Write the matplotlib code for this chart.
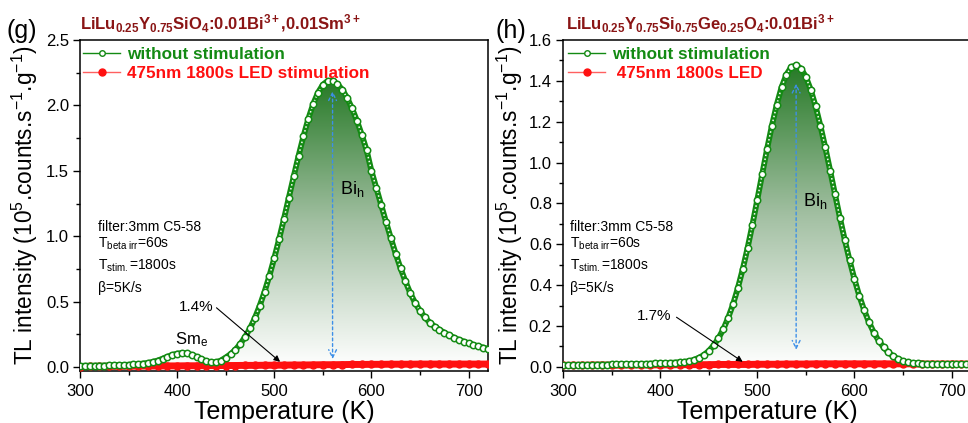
import numpy as np
import matplotlib
matplotlib.use('Agg')
import matplotlib.pyplot as plt
from matplotlib.colors import LinearSegmentedColormap
from matplotlib.patches import Polygon
from matplotlib.lines import Line2D
from matplotlib.ticker import MultipleLocator

plt.rcParams['font.family'] = ['Liberation Sans', 'DejaVu Sans']
plt.rcParams['mathtext.fontset'] = 'custom'
plt.rcParams['mathtext.rm'] = 'Liberation Sans'
plt.rcParams['mathtext.it'] = 'Liberation Sans:italic'
plt.rcParams['mathtext.bf'] = 'Liberation Sans:bold'

# ---------------- data ----------------
temps = list(range(300, 725, 5))          # K, 85 points
temps_red = list(range(300, 730, 10))     # K, 43 points

g_green = [0.010, 0.010, 0.011, 0.011, 0.012, 0.012, 0.013, 0.014, 0.015, 0.016,   # 300-345
           0.018, 0.020, 0.023, 0.027, 0.032, 0.040, 0.050, 0.064, 0.079, 0.093,   # 350-395
           0.103, 0.107, 0.104, 0.094, 0.078, 0.060, 0.045, 0.036, 0.036, 0.050,   # 400-445
           0.073, 0.099, 0.133, 0.177, 0.231, 0.296, 0.375, 0.469, 0.576, 0.698,   # 450-495
           0.833, 0.980, 1.135, 1.296, 1.457, 1.615, 1.763, 1.897, 2.010, 2.098,   # 500-545
           2.158, 2.188, 2.186, 2.163, 2.120, 2.058, 1.978, 1.884, 1.777, 1.659,   # 550-595
           1.500, 1.370, 1.240, 1.110, 0.985, 0.865, 0.755, 0.655, 0.565, 0.490,   # 600-645
           0.430, 0.380, 0.340, 0.310, 0.285, 0.263, 0.243, 0.225, 0.209, 0.195,   # 650-695
           0.182, 0.170, 0.159, 0.149, 0.140]                                       # 700-720

g_red = [0.004, 0.005, 0.005, 0.006, 0.006, 0.007, 0.007, 0.008, 0.008, 0.009,     # 300-390
         0.009, 0.010, 0.010, 0.011, 0.011, 0.012, 0.012, 0.013, 0.013, 0.014,     # 400-490
         0.014, 0.015, 0.016, 0.016, 0.017, 0.018, 0.018, 0.019, 0.020, 0.020,     # 500-590
         0.021, 0.021, 0.022, 0.022, 0.022, 0.023, 0.023, 0.023, 0.023, 0.023,     # 600-690
         0.023, 0.023, 0.023]                                                       # 700-720

h_green = [0.008, 0.008, 0.009, 0.009, 0.010, 0.010, 0.010, 0.011, 0.011, 0.011,   # 300-345
           0.012, 0.012, 0.013, 0.013, 0.014, 0.014, 0.015, 0.015, 0.016, 0.017,   # 350-395
           0.018, 0.019, 0.020, 0.021, 0.023, 0.025, 0.028, 0.035, 0.045, 0.058,   # 400-445
           0.078, 0.105, 0.140, 0.184, 0.240, 0.306, 0.386, 0.478, 0.582, 0.696,   # 450-495
           0.818, 0.942, 1.065, 1.180, 1.283, 1.369, 1.431, 1.468, 1.476, 1.460,   # 500-545
           1.420, 1.357, 1.276, 1.180, 1.074, 0.961, 0.845, 0.731, 0.623, 0.522,   # 550-595
           0.430, 0.348, 0.278, 0.218, 0.168, 0.128, 0.096, 0.071, 0.052, 0.038,   # 600-645
           0.028, 0.022, 0.019, 0.017, 0.016, 0.015, 0.015, 0.014, 0.014, 0.014,   # 650-695
           0.014, 0.014, 0.014, 0.014, 0.014]                                       # 700-720

h_red = [0.008, 0.008, 0.008, 0.009, 0.009, 0.009, 0.009, 0.010, 0.010, 0.010,     # 300-390
         0.010, 0.010, 0.011, 0.011, 0.011, 0.011, 0.012, 0.012, 0.012, 0.012,     # 400-490
         0.013, 0.013, 0.013, 0.014, 0.014, 0.014, 0.015, 0.015, 0.015, 0.015,     # 500-590
         0.015, 0.015, 0.015, 0.015, 0.015, 0.015, 0.015, 0.014, 0.014, 0.014,     # 600-690
         0.014, 0.014, 0.014]                                                       # 700-720

legend_labels_g = ['without stimulation', '475nm 1800s LED stimulation']
legend_labels_h = ['without stimulation', ' 475nm 1800s LED']
info_lines = ['filter:3mm C5-58', r'T$_{\mathrm{beta\ irr}}$=60s',
              r'T$_{\mathrm{stim.}}$=1800s', 'β=5K/s']

GREEN = '#138a13'
RED = '#ff1010'
DARKRED = '#8a1515'
BLUE = '#3d8fe8'

cmap = LinearSegmentedColormap.from_list(
    'tlgrad', [(0, '#ffffff'), (0.5, '#a3c0a3'), (1, '#277a27')])

fig = plt.figure(figsize=(9.68, 4.23), dpi=100)
ax1 = fig.add_axes([80 / 968, 1 - 371 / 423, 408 / 968, 331 / 423])
ax2 = fig.add_axes([563 / 968, 1 - 371 / 423, 408 / 968, 331 / 423])


def draw_panel(ax, T, G, Tr, R, ymax, ybot, ymaj, ymin):
    T = np.asarray(T, float)
    G = np.asarray(G, float)
    # gradient fill under the green curve
    verts = np.column_stack([np.r_[T[0], T, T[-1]], np.r_[0, G, 0]])
    poly = Polygon(verts, closed=True, facecolor='none', edgecolor='none')
    ax.add_patch(poly)
    grad = np.linspace(0, 1, 256).reshape(-1, 1)
    im = ax.imshow(grad, cmap=cmap, aspect='auto', origin='lower',
                   extent=[T[0], T[-1], 0, G.max()], zorder=1)
    im.set_clip_path(poly)
    # red curve
    ax.plot(Tr, R, color=RED, lw=5.0, zorder=3, solid_capstyle='butt')
    ax.plot(Tr, R, 'o', ms=5.0, mfc=RED, mec=RED, zorder=3)
    # green curve of open circles
    ax.plot(T, G, color=GREEN, lw=4.2, zorder=4, solid_capstyle='round')
    ax.plot(T, G, color='white', lw=1.1, ls=(0, (1, 1.6)), zorder=5)
    ax.plot(T, G, 'o', ms=4.6, mfc='white', mec=GREEN, mew=1.1, zorder=6)

    ax.set_xlim(300, 720)
    ax.set_ylim(ybot, ymax)
    ax.xaxis.set_major_locator(MultipleLocator(100))
    ax.xaxis.set_minor_locator(MultipleLocator(50))
    ax.yaxis.set_major_locator(MultipleLocator(ymaj))
    ax.yaxis.set_minor_locator(MultipleLocator(ymin))
    ax.tick_params(which='major', direction='out', length=5, width=1,
                   labelsize=12, pad=3)
    ax.tick_params(which='minor', direction='out', length=3, width=1)
    ax.tick_params(axis='x', which='major', pad=4)
    for s in ax.spines.values():
        s.set_linewidth(1.1)
    ax.set_xlabel('Temperature (K)', fontsize=18)
    ax.set_ylabel(r'TL intensity (10$^5$.counts.s$^{-1}$.g$^{-1}$)', fontsize=16.3)
    ax.xaxis.set_label_coords(0.5, -0.088)


draw_panel(ax1, temps, g_green, temps_red, g_red, 2.5, -0.03, 0.5, 0.25)
draw_panel(ax2, temps, h_green, temps_red, h_red, 1.6, -0.02, 0.2, 0.1)
ax1.yaxis.set_label_coords(-0.097, 0.5)
ax2.yaxis.set_label_coords(-0.093, 0.5)


def add_legend(ax, labels, x0):
    h1 = Line2D([], [], color=GREEN, lw=1, marker='o', ms=4, mfc='white',
                mec=GREEN, mew=1)
    h2 = Line2D([], [], color='#ff6060', lw=1, marker='o', ms=5, mfc=RED,
                mec=RED)
    leg = ax.legend([h1, h2], labels, loc='upper left',
                    bbox_to_anchor=(x0, 0.978), frameon=False,
                    prop={'weight': 'bold', 'size': 12.3}, handlelength=2.2,
                    handletextpad=0.4, labelspacing=0.22, borderpad=0,
                    borderaxespad=0)
    for t, c in zip(leg.get_texts(), [GREEN, RED]):
        t.set_color(c)
    leg.set_zorder(10)


add_legend(ax1, legend_labels_g, 0.007)
add_legend(ax2, legend_labels_h, 0.012)

# info text
for ax, x0 in [(ax1, 0.045), (ax2, 0.017)]:
    for i, line in enumerate(info_lines):
        ax.text(x0, [0.435, 0.385, 0.318, 0.25][i], line, transform=ax.transAxes,
                fontsize=10, va='center', ha='left', zorder=8)

# peak labels and arrows
ax1.text(568, 1.36, r'Bi$_\mathrm{h}$', fontsize=13, va='center', zorder=8)
ax2.text(547, 0.81, r'Bi$_\mathrm{h}$', fontsize=13, va='center', zorder=8)
ax1.text(398, 0.21, r'Sm$_\mathrm{e}$', fontsize=12, va='center', zorder=8)

ax1.annotate('', xy=(560, 2.13), xytext=(560, 0.04),
             arrowprops=dict(arrowstyle='<->', color=BLUE, lw=1.0,
                             linestyle=(0, (2, 2)), mutation_scale=14),
             zorder=7)
ax2.annotate('', xy=(540, 1.40), xytext=(540, 0.07),
             arrowprops=dict(arrowstyle='<->', color=BLUE, lw=1.0,
                             linestyle=(0, (2, 2)), mutation_scale=14),
             zorder=7)

ax1.annotate('1.4%', xy=(506, 0.04), xytext=(402, 0.46), fontsize=11,
             va='center', ha='left',
             arrowprops=dict(arrowstyle='-|>', color='black', lw=0.8,
                             mutation_scale=9, shrinkA=0, shrinkB=0,
                             relpos=(1.05, 0.5)), zorder=8)
ax2.annotate('1.7%', xy=(485, 0.025), xytext=(376, 0.25), fontsize=11,
             va='center', ha='left',
             arrowprops=dict(arrowstyle='-|>', color='black', lw=0.8,
                             mutation_scale=9, shrinkA=0, shrinkB=0,
                             relpos=(1.15, 0.4)), zorder=8)

# panel labels and titles
fig.text(6 / 968, 1 - 31 / 423, '(g)', fontsize=18, va='center', ha='left')
fig.text(496 / 968, 1 - 31 / 423, '(h)', fontsize=18, va='center', ha='left')
fig.text(80 / 968, 1 - 30 / 423,
         r'LiLu$_{\mathbf{0.25}}$Y$_{\mathbf{0.75}}$SiO$_{\mathbf{4}}$:0.01Bi$^{\mathbf{3+}}$,0.01Sm$^{\mathbf{3+}}$',
         fontsize=12, fontweight='bold', color=DARKRED, va='baseline', ha='left')
fig.text(566 / 968, 1 - 30 / 423,
         r'LiLu$_{\mathbf{0.25}}$Y$_{\mathbf{0.75}}$Si$_{\mathbf{0.75}}$Ge$_{\mathbf{0.25}}$O$_{\mathbf{4}}$:0.01Bi$^{\mathbf{3+}}$',
         fontsize=12, fontweight='bold', color=DARKRED, va='baseline', ha='left')

fig.savefig('out.png', dpi=100)
